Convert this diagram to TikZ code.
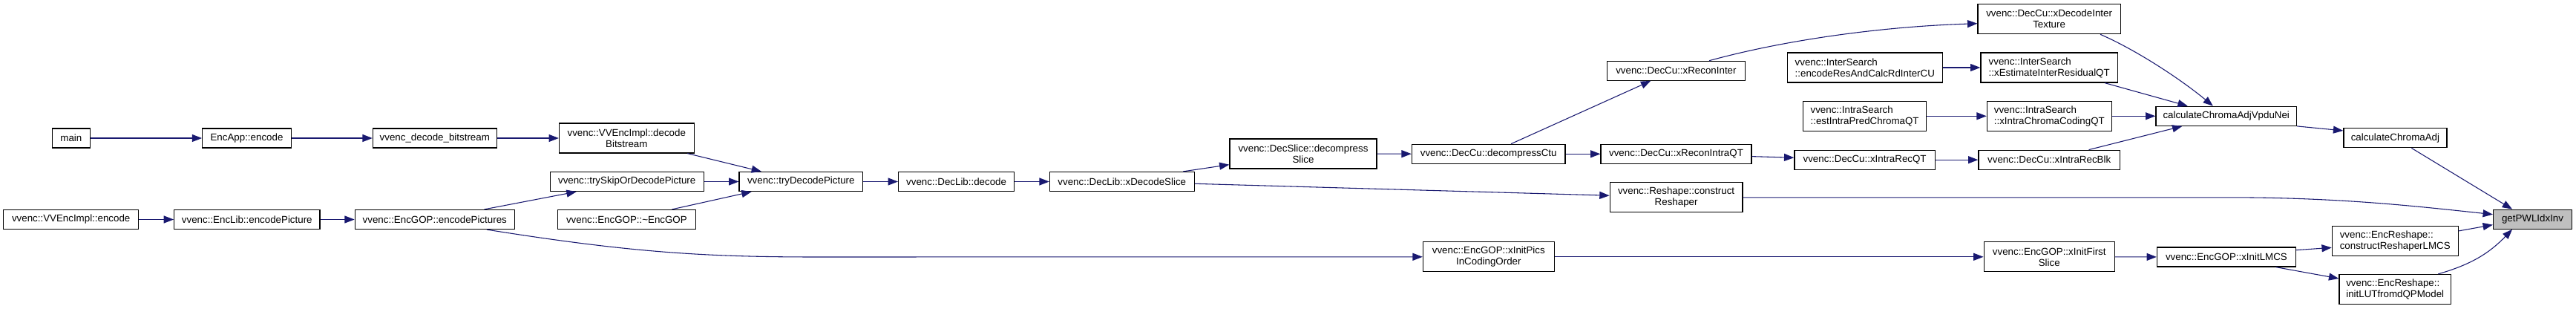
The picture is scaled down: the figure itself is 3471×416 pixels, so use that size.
\documentclass[tikz,border=0pt]{standalone}
\usepackage{fontspec}
\setmainfont{Liberation Sans}
\usetikzlibrary{arrows.meta}
\definecolor{edgeblue}{HTML}{191970}
\definecolor{grey75}{HTML}{BFBFBF}

\begin{document}
\begin{tikzpicture}[x=0.75pt, y=-0.75pt,
    fn/.style={draw=black, line width=0.9pt, fill=white, inner sep=0pt, minimum height=19.5pt,
               font=\fontsize{10}{11.25}\selectfont, align=center},
    fntwo/.style={fn, minimum height=30pt},
    fnleft/.style={fntwo, align=left},
    call/.style={draw=edgeblue, line width=0.8pt, -{Triangle[length=10pt,width=7.5pt]}}]
\useasboundingbox (0,0) rectangle (3471,416);

% callers on the left
\node[fn, minimum width=38.2pt] (main) at (95.9,186) {main};
\node[fn, minimum width=89.6pt] (encapp) at (332.5,186) {EncApp::encode};
\node[fn, minimum width=125.1pt] (decbs) at (585.8,186) {vvenc\_decode\_bitstream};
\node[fntwo, minimum width=136.3pt] (decbits) at (844.3,186) {vvenc::VVEncImpl::decode\\Bitstream};
\node[fn, minimum width=136.6pt] (vvencode) at (95.7,295.5) {vvenc::VVEncImpl::encode};
\node[fn, minimum width=147.2pt] (encpic) at (332.8,295.5) {vvenc::EncLib::encodePicture};
\node[fn, minimum width=161.3pt] (encpics) at (585.8,295.5) {vvenc::EncGOP::encodePictures};
\node[fn, minimum width=155.3pt] (tryskip) at (844.7,244.5) {vvenc::trySkipOrDecodePicture};
\node[fn, minimum width=139.5pt] (encgopd) at (844.4,295.5) {vvenc::EncGOP::\textasciitilde EncGOP};
\node[fn, minimum width=124.9pt] (trydec) at (1079.3,244.5) {vvenc::tryDecodePicture};
\node[fn, minimum width=117.1pt] (decode) at (1288.6,244.5) {vvenc::DecLib::decode};
\node[fn, minimum width=146.1pt] (xdslice) at (1511.8,244.5) {vvenc::DecLib::xDecodeSlice};
\node[fntwo, minimum width=148.5pt] (dslice) at (1756,207) {vvenc::DecSlice::decompress\\Slice};
\node[fn, minimum width=155pt] (dctu) at (2005.7,207.3) {vvenc::DecCu::decompressCtu};
\node[fntwo, minimum width=132.6pt] (xipics) at (2005.8,345.8) {vvenc::EncGOP::xInitPics\\InCodingOrder};

% middle columns
\node[fn, minimum width=139.5pt] (xrinter) at (2258.4,95.3) {vvenc::DecCu::xReconInter};
\node[fn, minimum width=152.3pt] (xrintra) at (2258.5,207.3) {vvenc::DecCu::xReconIntraQT};
\node[fntwo, minimum width=134.1pt] (reshaper) at (2258.6,265.8) {vvenc::Reshape::construct\\Reshaper};
\node[fnleft, minimum width=156.8pt] (encres) at (2512.8,91) {vvenc::InterSearch\\::encodeResAndCalcRdInterCU};
\node[fnleft, minimum width=124.3pt] (estintra) at (2512.6,156.3) {vvenc::IntraSearch\\::estIntraPredChromaQT};
\node[fn, minimum width=142pt] (xirqt) at (2512.6,215.2) {vvenc::DecCu::xIntraRecQT};
\node[fntwo, minimum width=144.2pt] (xdit) at (2761.1,25.7) {vvenc::DecCu::xDecodeInter\\Texture};
\node[fnleft, minimum width=138.4pt] (xest) at (2761.2,91) {vvenc::InterSearch\\::xEstimateInterResidualQT};
\node[fnleft, minimum width=126pt] (xicc) at (2761.3,156.3) {vvenc::IntraSearch\\::xIntraChromaCodingQT};
\node[fn, minimum width=142.9pt] (xirblk) at (2761.2,215.2) {vvenc::DecCu::xIntraRecBlk};
\node[fntwo, minimum width=132.1pt] (xifirst) at (2761.2,345.8) {vvenc::EncGOP::xInitFirst\\Slice};

% right side
\node[fn, minimum width=142.2pt] (vpdu) at (2999.7,156.3) {calculateChromaAdjVpduNei};
\node[fn, minimum width=140.2pt] (xilmcs) at (2999.9,346) {vvenc::EncGOP::xInitLMCS};
\node[fn, minimum width=104.3pt] (calcadj) at (3227.4,185.8) {calculateChromaAdj};
\node[fnleft, minimum width=127.3pt] (lmcs) at (3227.2,324.3) {vvenc::EncReshape::\\constructReshaperLMCS};
\node[fnleft, minimum width=113pt] (initlut) at (3227.2,389.5) {vvenc::EncReshape::\\initLUTfromdQPModel};
\node[fn, fill=grey75, minimum width=79.5pt] (getpwl) at (3412.5,295.2) {getPWLIdxInv};

% straight calls
\foreach \a/\b in {main/encapp, encapp/decbs, decbs/decbits, tryskip/trydec, vvencode/encpic,
                   encpic/encpics, trydec/decode, decode/xdslice, dslice/dctu, dctu/xrintra,
                   xirqt/xirblk, encres/xest, estintra/xicc, xicc/vpdu, xipics/xifirst, xifirst/xilmcs}
    \draw[call] (\a) -- (\b);

\draw[call] ([xshift=61.5pt]decbits.south) -- ([xshift=-40pt]trydec.north);
\draw[call] ([xshift=50pt]encpics.north) -- ([xshift=-51pt]tryskip.south);
\draw[call] ([xshift=45.7pt]encgopd.north) -- ([xshift=-50pt]trydec.south);
\draw[call] ([xshift=52.6pt]encpics.south) .. controls (850,340) and (950,346) .. (1100,346) -- (xipics.west);
\draw[call] ([xshift=61.7pt]xdslice.north) -- ([yshift=-11pt]dslice.west);
\draw[call] ([yshift=-2.1pt]xdslice.east) -- ([yshift=1.9pt]reshaper.west);
\draw[call] ([xshift=22.7pt]dctu.north) -- ([xshift=-25.6pt]xrinter.south);
\draw[call] ([yshift=-2.5pt]xrintra.east) -- ([yshift=2.2pt]xirqt.west);
\draw[call] ([xshift=33.5pt]xrinter.north) .. controls (2400,55) and (2530,36) .. ([yshift=-4.5pt]xdit.west);

% into calculateChromaAdjVpduNei
\draw[call] ([xshift=51.7pt]xdit.south) .. controls (2880,68) and (2940,108) .. ([xshift=-13.4pt]vpdu.north);
\draw[call] ([xshift=56pt]xest.south) -- ([xshift=-39pt]vpdu.north);
\draw[call] ([xshift=40pt]xirblk.north) -- ([xshift=-44.5pt]vpdu.south);
\draw[call] (vpdu.south east) -- ([yshift=7.4pt]calcadj.west);

% into getPWLIdxInv
\draw[call] ([xshift=16.5pt]calcadj.south) -- ([xshift=-20.6pt]getpwl.north);
\draw[call] (reshaper.east) -- (3000,265.8) .. controls (3150,265.8) and (3250,277) .. ([yshift=4.9pt]getpwl.west);
\draw[call] ([yshift=10pt]lmcs.east) -- ([yshift=-5.6pt]getpwl.west);
\draw[call] ([xshift=43.5pt]initlut.north) to[bend right=15] ([xshift=-20.6pt]getpwl.south);
\draw[call] ([yshift=7pt]xilmcs.east) -- ([yshift=-6.8pt]lmcs.west);
\draw[call] ([xshift=50pt]xilmcs.south) -- ([yshift=10.9pt]initlut.west);

\end{tikzpicture}
\end{document}
